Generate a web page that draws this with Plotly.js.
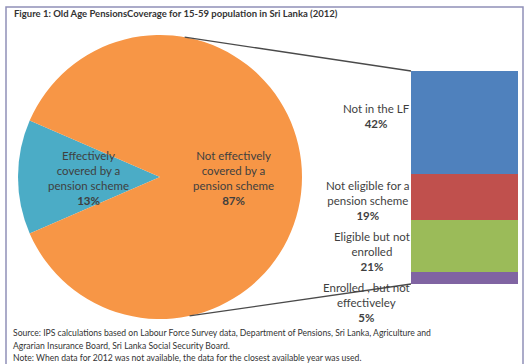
<!DOCTYPE html>
<html>
<head>
<meta charset="utf-8">
<script src="https://cdn.plot.ly/plotly-3.0.1.min.js"></script>
<style>html,body{margin:0;padding:0;background:#fff;}#chart{width:526px;height:364px;}</style>
</head>
<body>
<div id="chart"></div>
<script>
const chartTitle = "Figure 1: Old Age PensionsCoverage for 15-59 population in Sri Lanka (2012)";
const pieLabels = ["Effectively<br>covered by a<br>pension scheme", "Not effectively<br>covered by a<br>pension scheme"];
const pieValues = [13, 87];
const pieColors = ["#4bacc6", "#f79646"];
const barLabels = ["Enrolled , but not<br>effectiveley", "Eligible but not<br>enrolled", "Not eligible for a<br>pension scheme", "Not in the LF"];
const barValues = [5, 21, 19, 42];
const barColors = ["#8064a2", "#9bbb59", "#c0504d", "#4f81bd"];
const sourceLines = [
  "Source: IPS calculations based on Labour Force Survey data, Department of Pensions, Sri Lanka, Agriculture and",
  "Agrarian Insurance Board, Sri Lanka Social Security Board.",
  "Note: When data for 2012 was not available, the data for the closest available year was used."
];

const W = 526, H = 364;
const px = x => x / W;
const py = y => 1 - y / H;

// pie geometry (pixels)
const pieCx = 160, pieCy = 177, pieR = 142;
const pieDomX = [px(pieCx - pieR), px(pieCx + pieR)];
const pieDomY = [py(pieCy + pieR), py(pieCy - pieR)];
// bar geometry
const barDomX = [px(411), px(518)];
const barDomY = [py(284), py(71)];
const barTotal = barValues.reduce((a, b) => a + b, 0);

const txtColor = "#3f3f3f";
const fontFam = "Lato, 'Open Sans', sans-serif";

const traces = [];
traces.push({
  type: "pie",
  values: pieValues,
  labels: pieLabels,
  marker: {colors: pieColors, line: {width: 0}},
  sort: false,
  direction: "counterclockwise",
  rotation: -(90 + 360 * pieValues[0] / 100 / 2),
  textinfo: "none",
  hoverinfo: "label+percent",
  domain: {x: pieDomX, y: pieDomY},
  showlegend: false
});
barValues.forEach((v, i) => {
  traces.push({
    type: "bar",
    x: ["LF"],
    y: [v],
    name: barLabels[i],
    marker: {color: barColors[i], line: {width: 0}},
    hoverinfo: "name+y",
    showlegend: false
  });
});

const annotations = [];
annotations.push({
  xref: "paper", yref: "paper", x: px(12), y: py(14), xanchor: "left", yanchor: "middle",
  text: "<b>" + chartTitle + "</b>", showarrow: false,
  font: {family: fontFam, size: 9.5, color: "#333333"}
});
const pieLabelPos = [[88, 178], [233, 178]];
pieLabels.forEach((l, i) => {
  annotations.push({
    xref: "paper", yref: "paper", x: px(pieLabelPos[i][0]), y: py(pieLabelPos[i][1]),
    xanchor: "center", yanchor: "middle", align: "center",
    text: l + "<br><b>" + pieValues[i] + "%</b>", showarrow: false,
    font: {family: fontFam, size: 11.5, color: txtColor}
  });
});
const barLabelY = [302, 251, 200, 116];
barLabels.forEach((l, i) => {
  annotations.push({
    xref: "paper", yref: "paper", x: px(412), y: py(barLabelY[i]),
    xanchor: "right", yanchor: "middle", align: "center",
    text: l + "<br><b>" + barValues[i] + "%</b>", showarrow: false,
    font: {family: fontFam, size: 11.5, color: txtColor}
  });
});
sourceLines.forEach((s, i) => {
  annotations.push({
    xref: "paper", yref: "paper", x: px(11), y: py(333 + 12.5 * i), xanchor: "left", yanchor: "middle",
    text: s, showarrow: false,
    font: {family: fontFam, size: 8.6, color: "#333333"}
  });
});

// connector lines from pie edge to bar corners
const deg = Math.PI / 180;
const topPt = [pieCx + pieR * Math.sin(10 * deg), pieCy - pieR * Math.cos(10 * deg)];
const botPt = [pieCx + pieR * Math.sin(168 * deg), pieCy - pieR * Math.cos(168 * deg)];
const shapes = [
  {type: "rect", xref: "paper", yref: "paper", x0: px(6), x1: px(523), y0: py(370), y1: py(7),
   line: {color: "#9090b8", width: 1.5}, fillcolor: "rgba(0,0,0,0)", layer: "below"},
  {type: "line", xref: "paper", yref: "paper", x0: px(topPt[0]), y0: py(topPt[1]), x1: barDomX[0], y1: barDomY[1],
   line: {color: "#4a4a4a", width: 1.3}},
  {type: "line", xref: "paper", yref: "paper", x0: px(botPt[0]), y0: py(botPt[1]), x1: barDomX[0], y1: barDomY[0],
   line: {color: "#4a4a4a", width: 1.3}}
];

const layout = {
  width: W, height: H,
  margin: {l: 0, r: 0, t: 0, b: 0},
  paper_bgcolor: "#ffffff", plot_bgcolor: "#ffffff",
  barmode: "stack", bargap: 0,
  showlegend: false,
  xaxis: {domain: barDomX, range: [-0.5, 0.5], visible: false, fixedrange: true},
  yaxis: {domain: barDomY, range: [0, barTotal], visible: false, fixedrange: true},
  annotations: annotations,
  shapes: shapes
};

Plotly.newPlot("chart", traces, layout, {displayModeBar: false, staticPlot: true});
</script>
</body>
</html>
